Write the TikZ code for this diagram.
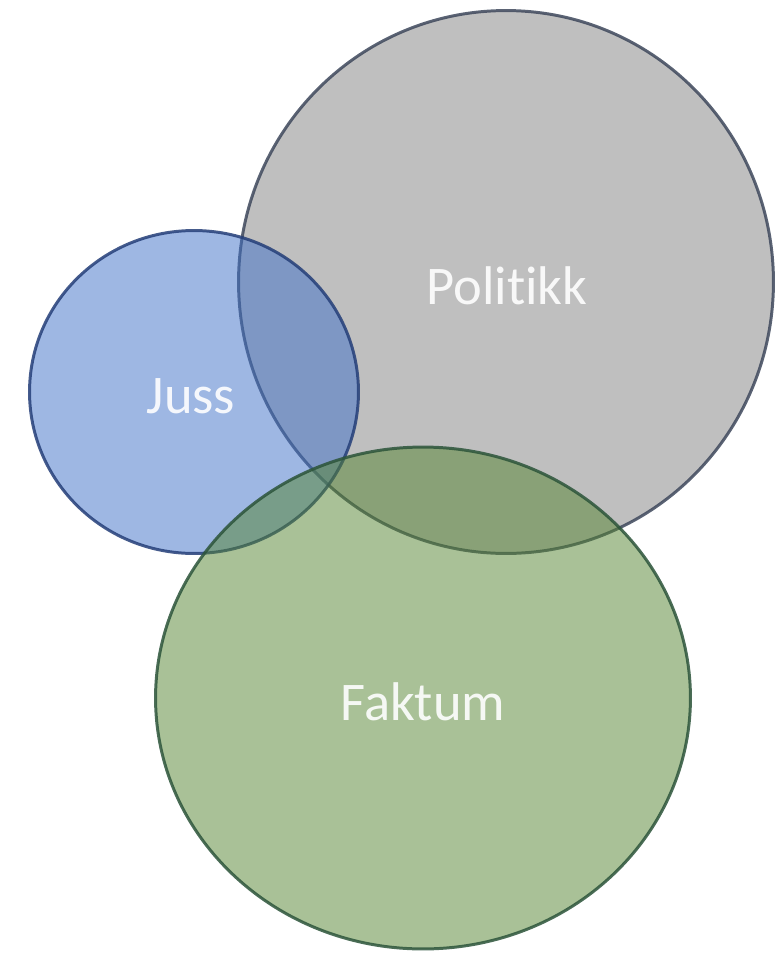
\documentclass[tikz,border=0pt]{standalone}
\usepackage{fontspec}
\setmainfont{Carlito}[Ligatures=NoCommon]
\usetikzlibrary{shapes.geometric}

\definecolor{grayfill}{RGB}{128,128,128}
\definecolor{grayline}{RGB}{62,72,92}
\definecolor{bluefill}{RGB}{62,112,200}
\definecolor{blueline}{RGB}{36,62,120}
\definecolor{greenfill}{RGB}{84,132,48}
\definecolor{greenline}{RGB}{44,84,58}

\tikzset{
  set/.style={ellipse, line width=1.7pt, fill opacity=0.5, draw opacity=0.85, inner sep=0pt},
  setname/.style={text=white, text opacity=0.9, font=\fontsize{31}{37}\selectfont}
}

\begin{document}
\begin{tikzpicture}[x=0.02cm,y=-0.02cm]
\useasboundingbox (0,0) rectangle (777,954);

% the three sets
\node[set, draw=grayline, fill=grayfill, minimum width=10.7cm, minimum height=10.86cm] (politikk) at (506,282) {};
\node[set, draw=blueline, fill=bluefill, minimum width=6.58cm, minimum height=6.46cm] (juss) at (194,392) {};
\node[set, draw=greenline, fill=greenfill, minimum width=10.7cm, minimum height=10.04cm] (faktum) at (423,698) {};

% names
\node[setname] (politikkName) at (507,286) {Politikk};
\node[setname] (jussName) at (191,396) {Juss};
\node[setname] (faktumName) at (423,702) {Faktum};
\end{tikzpicture}
\end{document}
